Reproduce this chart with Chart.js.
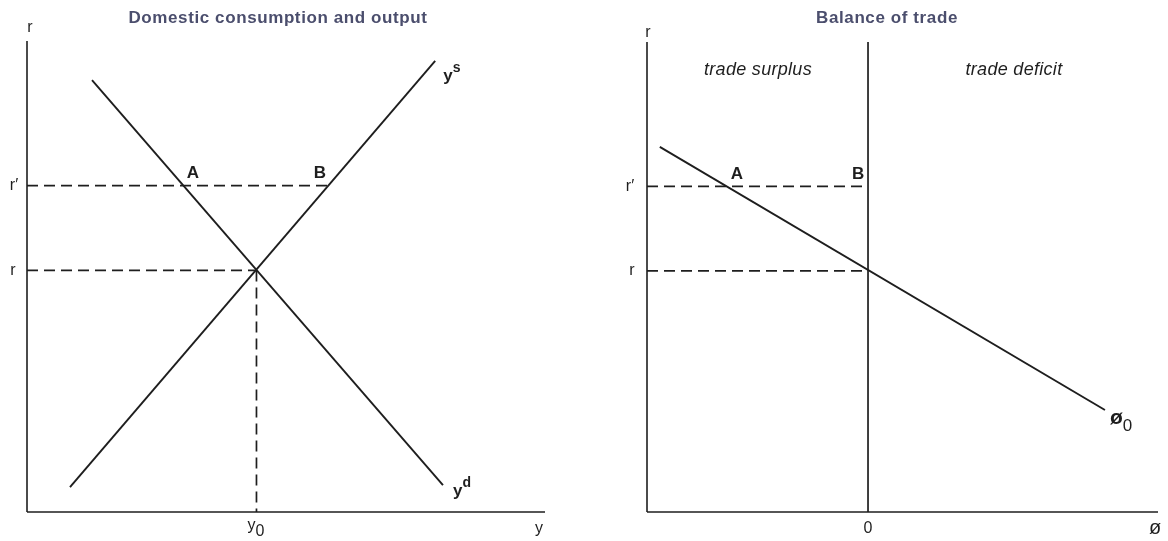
<!DOCTYPE html>
<html>
<head>
<meta charset="utf-8">
<script src="https://cdn.jsdelivr.net/npm/chart.js@4.4.1/dist/chart.umd.min.js"></script>
<style>
  html, body { margin: 0; padding: 0; background: #fff; }
  #wrap { position: relative; width: 1168px; height: 541px; }
  canvas { position: absolute; top: 0; }
  #left { left: 0; }
  #right { left: 584px; }
</style>
</head>
<body>
<div id="wrap">
  <canvas id="left" width="584" height="541"></canvas>
  <canvas id="right" width="584" height="541"></canvas>
</div>
<script>
// interest rate levels (shared by both panels)
const rLevel = 51.3;
const rPrime = 69.3;

// left panel: output y against r
const outputAxisMax = 100;
const y0 = 44.3;
const demandX = [12.55, 80.3];   // y^d
const demandR = [91.7, 5.7];
const supplyX = [8.3, 78.8];     // y^s
const supplyR = [5.3, 95.8];
const pointB_left = 58.3;        // y^s at r'

// right panel: trade balance ø against r
const tradeMin = -50;
const tradeMax = 65.6;
const balanceX = [-47.1, 53.6];  // ø0
const balanceR = [77.7, 21.7];

const INK = '#1e1e1e';
const TITLE = '#4b4e6d';
const FONT = '"Liberation Sans", Arial, sans-serif';

function pts(xs, ys) {
    return xs.map((x, i) => ({ x: x, y: ys[i] }));
}

function line(data, opts) {
    return Object.assign({
        type: 'line',
        data: data,
        borderColor: INK,
        borderWidth: 1.9,
        pointRadius: 0,
        fill: false,
        clip: false
    }, opts || {});
}

const dash = { borderWidth: 1.7, borderDash: [11, 6] };

function spacing(ctx, v) {
    if ('letterSpacing' in ctx) ctx.letterSpacing = v;
}

// text with a raised or lowered small part, like y^s or ø_0
function scripted(ctx, base, small, x, y, baseFont, smallFont, shift) {
    ctx.font = baseFont;
    ctx.textAlign = 'left';
    ctx.textBaseline = 'alphabetic';
    ctx.fillText(base, x, y);
    const w = ctx.measureText(base).width;
    ctx.font = smallFont;
    ctx.fillText(small, x + w, y + shift);
}

function txt(ctx, s, x, y, font, align, color) {
    ctx.font = font;
    ctx.fillStyle = color || INK;
    ctx.textAlign = align || 'center';
    ctx.textBaseline = 'middle';
    ctx.fillText(s, x, y);
}

const titleFont = 'bold 17px ' + FONT;
const tick = '16px ' + FONT;
const bold = 'bold 17px ' + FONT;

const leftLabels = {
    id: 'leftLabels',
    afterDatasetsDraw(chart) {
        const { ctx, scales: { x, y } } = chart;
        ctx.save();
        spacing(ctx, '0.6px');
        txt(ctx, 'Domestic consumption and output', 278, 18, titleFont, 'center', TITLE);
        spacing(ctx, '0px');

        txt(ctx, 'r', x.getPixelForValue(0) + 3, 28, tick);
        txt(ctx, 'r\u2032', 14, y.getPixelForValue(rPrime), tick);
        txt(ctx, 'r', 13, y.getPixelForValue(rLevel), tick);
        txt(ctx, 'y', 539, 529, tick);

        ctx.fillStyle = INK;
        scripted(ctx, 'y', '0', x.getPixelForValue(y0) - 9, 530, tick, '16px ' + FONT, 6);

        const ra = y.getPixelForValue(rPrime);
        txt(ctx, 'A', 193, ra - 12, bold);
        txt(ctx, 'B', x.getPixelForValue(pointB_left) - 9, ra - 12, bold);

        ctx.fillStyle = INK;
        scripted(ctx, 'y', 's', x.getPixelForValue(supplyX[1]) + 8, y.getPixelForValue(supplyR[1]) + 20,
            'bold 17px ' + FONT, 'bold 14px ' + FONT, -9);
        scripted(ctx, 'y', 'd', x.getPixelForValue(demandX[1]) + 10, y.getPixelForValue(demandR[1]) + 11,
            'bold 17px ' + FONT, 'bold 14px ' + FONT, -9);
        ctx.restore();
    }
};

const rightLabels = {
    id: 'rightLabels',
    afterDatasetsDraw(chart) {
        const { ctx, scales: { x, y } } = chart;
        ctx.save();
        spacing(ctx, '0.6px');
        txt(ctx, 'Balance of trade', 887 - 584, 18, titleFont, 'center', TITLE);
        spacing(ctx, '0px');

        txt(ctx, 'r', x.getPixelForValue(tradeMin) + 1, 33, tick);
        txt(ctx, 'r\u2032', 630 - 584, y.getPixelForValue(rPrime), tick);
        txt(ctx, 'r', 632 - 584, y.getPixelForValue(rLevel), tick);
        txt(ctx, '0', x.getPixelForValue(0), 529, tick);
        txt(ctx, '\u00f8', 1155 - 584, 528, '20px ' + FONT);

        const it = 'italic 18px ' + FONT;
        spacing(ctx, '0.3px');
        txt(ctx, 'trade surplus', 758 - 584, 70, it);
        txt(ctx, 'trade deficit', 1014 - 584, 70, it);
        spacing(ctx, '0px');

        const ra = y.getPixelForValue(rPrime);
        txt(ctx, 'A', 737 - 584, ra - 12, bold);
        txt(ctx, 'B', x.getPixelForValue(0) - 10, ra - 12, bold);

        ctx.fillStyle = INK;
        scripted(ctx, '\u00f8', '0', x.getPixelForValue(balanceX[1]) + 5, y.getPixelForValue(balanceR[1]) + 14,
            'bold 21px ' + FONT, '17px ' + FONT, 7);
        ctx.restore();
    }
};

function hiddenScales(xmin, xmax) {
    return {
        x: { type: 'linear', min: xmin, max: xmax, display: false },
        y: { type: 'linear', min: 0, max: 100, display: false }
    };
}

const common = {
    responsive: false,
    animation: false,
    plugins: { legend: { display: false }, tooltip: { enabled: false } },
    events: []
};

new Chart(document.getElementById('left'), {
    type: 'line',
    data: {
        datasets: [
            line(pts([0, outputAxisMax], [0, 0]), { borderWidth: 1.6 }),
            line(pts([0, 0], [0, 100]), { borderWidth: 1.6 }),
            line(pts(demandX, demandR)),
            line(pts(supplyX, supplyR)),
            line(pts([0, pointB_left], [rPrime, rPrime]), dash),
            line(pts([0, y0], [rLevel, rLevel]), dash),
            line(pts([y0, y0], [rLevel, 0]), dash)
        ]
    },
    options: Object.assign({}, common, {
        layout: { padding: { left: 27, right: 584 - 545, top: 41, bottom: 541 - 512 } },
        scales: hiddenScales(0, outputAxisMax)
    }),
    plugins: [leftLabels]
});

new Chart(document.getElementById('right'), {
    type: 'line',
    data: {
        datasets: [
            line(pts([tradeMin, tradeMax], [0, 0]), { borderWidth: 1.6 }),
            line(pts([tradeMin, tradeMin], [0, 100]), { borderWidth: 1.6 }),
            line(pts([0, 0], [0, 100]), { borderWidth: 1.7 }),
            line(pts(balanceX, balanceR)),
            line(pts([tradeMin, 0], [rPrime, rPrime]), dash),
            line(pts([tradeMin, 0], [rLevel, rLevel]), dash)
        ]
    },
    options: Object.assign({}, common, {
        layout: { padding: { left: 647 - 584, right: 1168 - 1158, top: 42, bottom: 541 - 512 } },
        scales: hiddenScales(tradeMin, tradeMax)
    }),
    plugins: [rightLabels]
});
</script>
</body>
</html>
